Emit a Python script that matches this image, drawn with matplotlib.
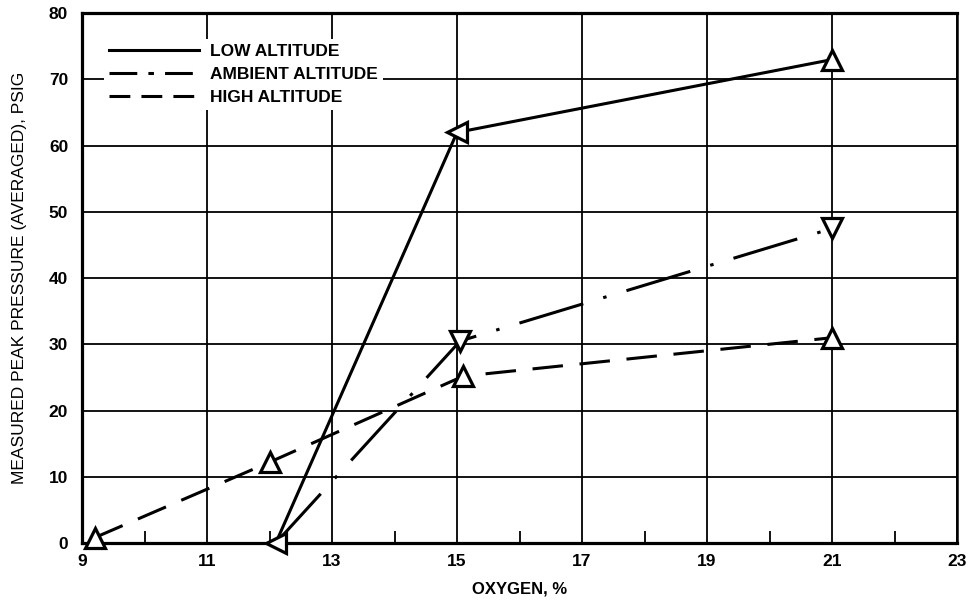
import matplotlib
matplotlib.use("Agg")
import matplotlib.pyplot as plt
from matplotlib.lines import Line2D

plt.rcParams['font.family'] = ['Liberation Sans', 'DejaVu Sans']
plt.rcParams['lines.scale_dashes'] = False

# Measured peak pressure (psig) vs. oxygen concentration (%)
low_oxygen = [12.1, 15.0, 21.0]
low_pressure = [0.0, 62.0, 73.0]
low_markers = ['<', '<', '^']

ambient_oxygen = [12.1, 15.05, 21.0]
ambient_pressure = [0.0, 30.5, 47.5]
ambient_markers = ['<', 'v', 'v']

high_oxygen = [9.2, 12.0, 15.1, 21.0]
high_pressure = [0.8, 12.2, 25.2, 31.0]
high_markers = ['^', '^', '^', '^']

series_labels = ['LOW ALTITUDE', 'AMBIENT ALTITUDE', 'HIGH ALTITUDE']
x_ticks = [9, 11, 13, 15, 17, 19, 21, 23]
x_minor = [10, 12, 14, 16, 18, 20, 22]
y_ticks = [0, 10, 20, 30, 40, 50, 60, 70, 80]

fig = plt.figure(figsize=(9.71, 6.01), dpi=100)
ax = fig.add_axes([0.0845, 0.0965, 0.9011, 0.8815])
ax.set_xlim(9, 23)
ax.set_ylim(0, 80)

ax.set_xticks(x_ticks)
ax.set_xticks(x_minor, minor=True)
ax.set_yticks(y_ticks)
ax.tick_params(axis='both', which='major', length=0, labelsize=12.5, pad=8)
ax.tick_params(axis='y', pad=10)
ax.tick_params(axis='x', which='minor', direction='in', length=8.5, width=1.3)
for lbl in ax.get_xticklabels() + ax.get_yticklabels():
    lbl.set_fontweight('bold')

ax.grid(True, which='major', color='black', linewidth=1.3)
ax.set_axisbelow(True)
for side, sp in ax.spines.items():
    sp.set_linewidth(2.3 if side != 'right' else 1.8)
    sp.set_color('black')

lw = 2.2
solid_style = dict(color='black', linewidth=lw, clip_on=False, zorder=3)
ax.plot(low_oxygen, low_pressure, linestyle='-', **solid_style)
l_amb, = ax.plot(ambient_oxygen, ambient_pressure, **solid_style)
l_amb.set_dashes([48, 15, 2.5, 15])
l_high, = ax.plot(high_oxygen, high_pressure, **solid_style)
l_high.set_dashes([22, 12])

def draw_markers(xs, ys, shapes):
    for x, y, m in zip(xs, ys, shapes):
        ax.plot([x], [y], marker=m, markersize=15, markerfacecolor='white',
                markeredgecolor='black', markeredgewidth=2.3, linestyle='none',
                clip_on=False, zorder=4)

draw_markers(low_oxygen, low_pressure, low_markers)
draw_markers(ambient_oxygen[1:], ambient_pressure[1:], ambient_markers[1:])
draw_markers(high_oxygen, high_pressure, high_markers)

handles = [
    Line2D([], [], color='black', linewidth=lw, linestyle='-'),
    Line2D([], [], color='black', linewidth=lw, dashes=[20, 8, 4, 8]),
    Line2D([], [], color='black', linewidth=lw, dashes=[15, 8]),
]
leg = ax.legend(handles, series_labels, loc='upper left',
                bbox_to_anchor=(0.015, 0.968), handlelength=5.2,
                handletextpad=0.6, labelspacing=0.45, borderpad=0.3,
                frameon=True, fancybox=False, framealpha=1,
                prop={'weight': 'bold', 'size': 12.5})
leg.get_frame().set_edgecolor('none')
leg.get_frame().set_facecolor('white')

ax.set_xlabel('OXYGEN, %', fontsize=12, fontweight='bold', labelpad=9)
ax.set_ylabel('MEASURED PEAK PRESSURE (AVERAGED), PSIG', fontsize=12.5,
              labelpad=16)

fig.savefig('out.png', dpi=100)
